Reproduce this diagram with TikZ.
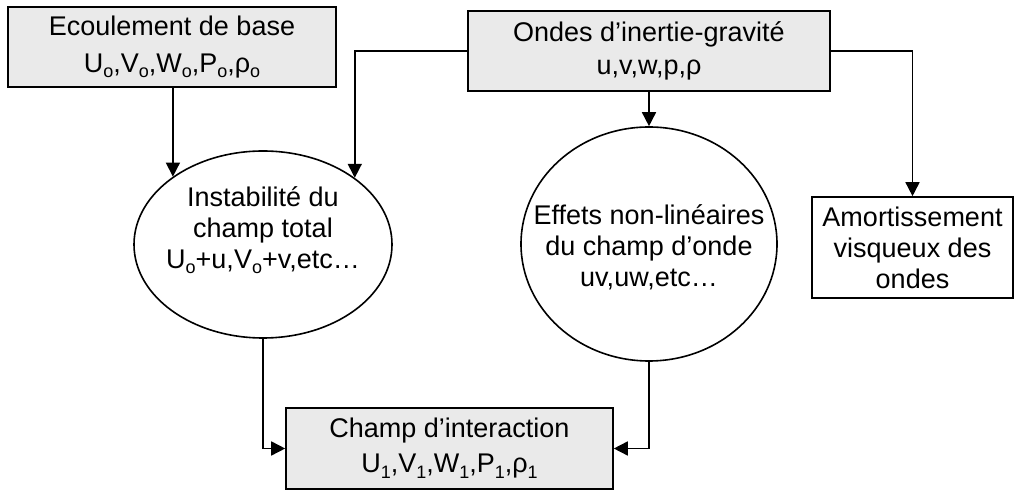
\documentclass[tikz,border=0pt]{standalone}
\usepackage{fontspec}
\setmainfont{Liberation Sans}
\usepackage{tikz}
\usetikzlibrary{shapes.geometric, arrows.meta, positioning, calc}
\definecolor{boxgray}{HTML}{EAEAEA}
\newcommand{\lowsub}[1]{\raisebox{-2.8pt}{\fontsize{9}{9}\selectfont #1}}
\tikzset{
    block/.style={
        rectangle,
        draw=black,
        line width=0.8pt,
        fill=boxgray,
        inner sep=0pt,
        align=center,
        font=\fontsize{13.5}{15.5}\selectfont
    },
    wblock/.style={
        block,
        fill=white
    },
    oval/.style={
        ellipse,
        draw=black,
        line width=0.8pt,
        inner sep=0pt
    },
    ovaltext/.style={
        align=center,
        inner sep=0pt,
        font=\fontsize{13.5}{15.5}\selectfont
    },
    arrow/.style={
        line width=0.8pt,
        -{Triangle[length=7pt,width=7pt]}
    },
}

\begin{document}
\begin{tikzpicture}[x=0.5pt, y=-0.5pt]
\useasboundingbox (0,0) rectangle (1016,490);

% Base flow
\node[block, minimum width=164pt, minimum height=40pt] (eco) at (172,47) {
    Ecoulement de base\\[3pt]
    U\lowsub{o},V\lowsub{o},W\lowsub{o},P\lowsub{o},ρ\lowsub{o}
};

% Waves
\node[block, minimum width=181pt, minimum height=40pt] (ondes) at (649,51) {
    Ondes d’inertie-gravité\\[1pt]
    u,v,w,p,ρ
};

% Instability of the total field
\node[oval, minimum width=129pt, minimum height=93.5pt] (inst) at (263,244.5) {};
\node[ovaltext] (insttxt) at (263,230) {
    Instabilité du\\
    champ total\\
    U\lowsub{o}+u,V\lowsub{o}+v,etc…
};

% Non-linear effects
\node[oval, minimum width=128pt, minimum height=117pt] (effets) at (649,244) {};
\node[ovaltext] (effetstxt) at (649,247) {
    Effets non-linéaires\\
    du champ d’onde\\
    uv,uw,etc…
};

% Viscous damping
\node[wblock, minimum width=100.5pt, minimum height=50.5pt] (amort) at (912.5,247.5) {
    Amortissement\\
    visqueux des\\
    ondes
};

% Interaction field
\node[block, minimum width=163.5pt, minimum height=40.5pt] (champ) at (449.5,448.5) {
    Champ d’interaction\\[2pt]
    U\lowsub{1},V\lowsub{1},W\lowsub{1},P\lowsub{1},ρ\lowsub{1}
};

% Arrows
\draw[arrow] (inst.143.84 |- eco.south) -- (inst.143.84);
\draw[arrow] (ondes.west) -| (inst.36.16);
\draw[arrow] (ondes.south) -- (effets.north);
\draw[arrow] (ondes.east) -| (amort.north);
\draw[arrow] (inst.south) |- (champ.west);
\draw[arrow] (effets.south) |- (champ.east);

\end{tikzpicture}
\end{document}
